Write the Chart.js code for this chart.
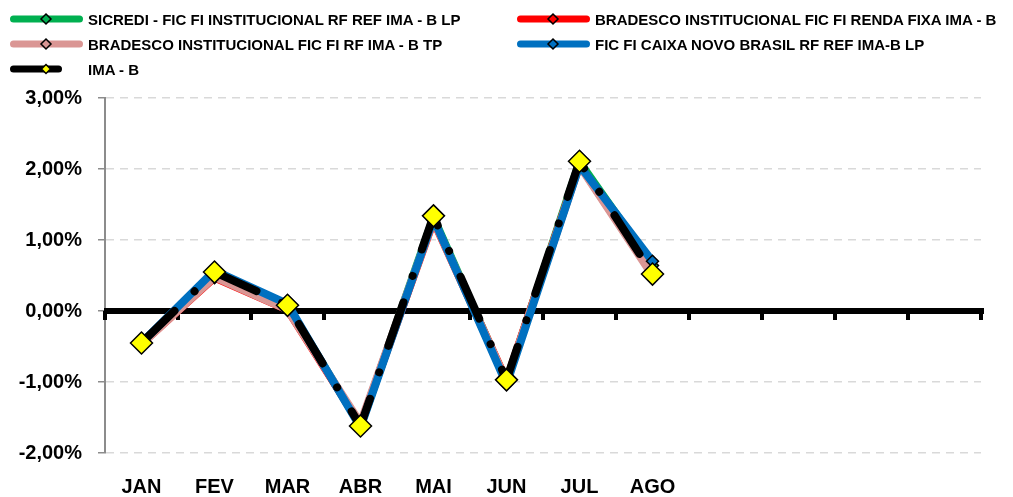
<!DOCTYPE html>
<html lang="pt-BR">
<head>
  <meta charset="UTF-8">
  <title>Rentabilidade mensal</title>
  <style>
    body {
      margin: 0;
      padding: 0;
      background-color: #fff;
      font-family: 'Liberation Sans', Arial, sans-serif;
    }

    .wrap {
      position: relative;
      width: 1013px;
      height: 497px;
    }

    #legend .item {
      position: absolute;
      height: 20px;
      display: flex;
      align-items: center;
      font-weight: bold;
      font-size: 15px;
      color: #000;
      white-space: nowrap;
    }

    #legend svg {
      position: absolute;
      left: 0;
      top: 0;
    }

    #legend span {
      position: absolute;
      top: 1px;
      line-height: 20px;
    }
  </style>
</head>
<body>
  <div class="wrap">
    <canvas id="chart" width="1013" height="497"></canvas>
    <div id="legend"></div>
  </div>

  <script src="https://cdn.jsdelivr.net/npm/chart.js"></script>
  <script>
    // meses (12 categorias no eixo, só 8 com valores)
    const months = ['JAN', 'FEV', 'MAR', 'ABR', 'MAI', 'JUN', 'JUL', 'AGO', '', '', '', ''];

    const seriesNames = [
      'SICREDI - FIC FI INSTITUCIONAL RF REF IMA - B LP',
      'BRADESCO INSTITUCIONAL FIC FI RENDA FIXA IMA - B',
      'BRADESCO INSTITUCIONAL FIC FI RF IMA - B TP',
      'FIC FI CAIXA NOVO BRASIL RF REF IMA-B LP',
      'IMA - B'
    ];

    // rentabilidade mensal (%)
    const sicredi = [-0.46, 0.54, 0.07, -1.62, 1.32, -1.00, 2.10, 0.64];
    const bradescoRF = [-0.46, 0.47, 0.02, -1.60, 1.27, -0.98, 2.06, 0.52];
    const bradescoTP = [-0.47, 0.48, 0.02, -1.58, 1.28, -0.99, 2.05, 0.50];
    const caixa = [-0.45, 0.57, 0.10, -1.64, 1.30, -1.03, 2.05, 0.70];
    const imaB = [-0.45, 0.55, 0.08, -1.62, 1.34, -0.97, 2.11, 0.52];

    const yTicks = [-2, -1, 0, 1, 2, 3];

    const colors = ['#00b050', '#ff0000', '#da9694', '#0070c0', '#000000'];
    const allData = [sicredi, bradescoRF, bradescoTP, caixa, imaB];

    function fmtPct(v) {
      return v.toFixed(2).replace('.', ',') + '%';
    }

    const datasets = allData.map((d, i) => {
      const isIndex = i === 4;
      return {
        label: seriesNames[i],
        data: d,
        borderColor: colors[i],
        backgroundColor: isIndex ? '#ffff00' : colors[i],
        borderWidth: 8,
        borderDash: isIndex ? [46, 28, 0.01, 28] : [],
        borderCapStyle: 'round',
        borderJoinStyle: 'round',
        pointStyle: 'rectRot',
        pointRadius: isIndex ? 11 : 6,
        pointBorderColor: '#000',
        pointBorderWidth: 1.5,
        pointBackgroundColor: isIndex ? '#ffff00' : colors[i],
        tension: 0,
        order: 5 - i
      };
    });

    // linha do zero com marcas, como o eixo do Excel
    const zeroAxis = {
      id: 'zeroAxis',
      beforeDatasetsDraw(chart) {
        const { ctx, chartArea, scales } = chart;
        const y0 = scales.y.getPixelForValue(0);
        const n = months.length;
        const step = (chartArea.right - chartArea.left) / n;
        ctx.save();
        ctx.fillStyle = '#000';
        ctx.fillRect(chartArea.left - 1, y0 - 3, chartArea.right - chartArea.left + 4, 6);
        for (let i = 0; i <= n; i++) {
          const x = chartArea.left + i * step;
          ctx.fillRect(x - 2, y0, 4, 9);
        }
        ctx.restore();
      }
    };

    const ctx = document.getElementById('chart').getContext('2d');
    const chart = new Chart(ctx, {
      type: 'line',
      data: {
        labels: months,
        datasets: datasets
      },
      options: {
        responsive: false,
        animation: false,
        layout: {
          padding: { left: 0, top: 98, right: 32, bottom: 0 }
        },
        plugins: {
          legend: { display: false },
          tooltip: { enabled: false }
        },
        scales: {
          x: {
            offset: true,
            grid: { display: false, drawTicks: false, offset: true },
            border: { display: false },
            ticks: {
              autoSkip: false,
              maxRotation: 0,
              padding: 22,
              color: '#000',
              font: { family: 'Liberation Sans', size: 20, weight: 'bold' }
            },
            afterFit(scale) { scale.height = 44; }
          },
          y: {
            min: -2,
            max: 3,
            afterBuildTicks(scale) {
              scale.ticks = yTicks.map(v => ({ value: v }));
            },
            grid: {
              color: c => (c.tick && c.tick.value === 0) ? 'rgba(0,0,0,0)' : '#d9d9d9',
              lineWidth: 1.5,
              tickColor: '#8c8c8c',
              tickLength: 7
            },
            border: { display: true, color: '#8c8c8c', width: 2, dash: [8, 6] },
            ticks: {
              padding: 16,
              color: '#000',
              font: { family: 'Liberation Sans', size: 20, weight: 'bold' },
              callback: v => fmtPct(v)
            },
            afterFit(scale) { scale.width = 105; }
          }
        }
      },
      plugins: [zeroAxis]
    });

    // legenda em duas colunas, feita a partir dos datasets
    const legendPos = [
      { x: 10, y: 9, w: 73 },
      { x: 517, y: 9, w: 73 },
      { x: 10, y: 34, w: 73 },
      { x: 517, y: 34, w: 73 },
      { x: 10, y: 59, w: 52 }
    ];
    const legendEl = document.getElementById('legend');
    chart.data.datasets.forEach((ds, i) => {
      const p = legendPos[i];
      const item = document.createElement('div');
      item.className = 'item';
      item.style.left = p.x + 'px';
      item.style.top = p.y + 'px';
      const dx = 36;
      const r = i === 4 ? 4.5 : 5;
      item.innerHTML =
        '<svg width="80" height="20">' +
        '<line x1="3.5" y1="10" x2="' + (p.w - 3.5) + '" y2="10" stroke="' + ds.borderColor +
        '" stroke-width="7" stroke-linecap="round"/>' +
        '<polygon points="' + dx + ',' + (10 - r) + ' ' + (dx + r) + ',10 ' + dx + ',' + (10 + r) + ' ' +
        (dx - r) + ',10" fill="' + ds.pointBackgroundColor + '" stroke="#000" stroke-width="1.5"/>' +
        '</svg><span style="left:78px">' + ds.label + '</span>';
      legendEl.appendChild(item);
    });
  </script>
</body>
</html>
